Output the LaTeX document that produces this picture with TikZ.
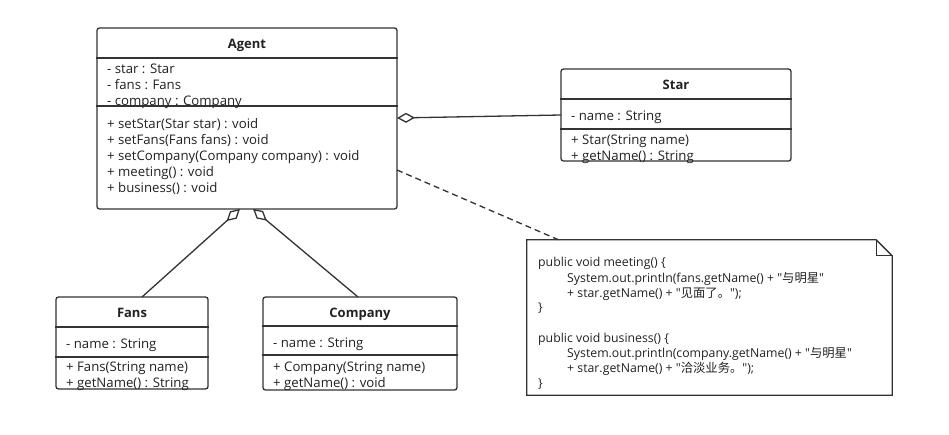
\documentclass[tikz,border=0pt]{standalone}
\usepackage{fontspec}
\setmainfont{Open Sans}
\newfontfamily\plainfont{Open Sans}
\newfontfamily\cjk{Noto Sans CJK SC}
\usetikzlibrary{arrows.meta}
\definecolor{linec}{HTML}{333333}
\definecolor{txtc}{HTML}{222222}
\begin{document}
\begin{tikzpicture}[x=1pt,y=-1pt,
  classbox/.style={draw=linec, line width=1.3pt, rounded corners=2.5pt, fill=white, inner sep=0pt},
  sepline/.style={draw=linec, line width=1.3pt},
  txt/.style={anchor=west, inner sep=0pt, text height=11.5pt, text depth=0pt, text=txtc, font=\fontsize{13.2}{15}\selectfont},
  ntxt/.style={anchor=west, inner sep=0pt, text height=10.5pt, text depth=0pt, text=txtc, font=\plainfont\fontsize{12.3}{14}\selectfont},
  ttl/.style={inner sep=0pt, text height=10pt, text depth=0pt, text=txtc, font=\bfseries\fontsize{13}{15}\selectfont},
  aggr/.style={draw=linec, line width=1.3pt, {Diamond[open,length=18pt,width=10pt,line width=1.3pt]}-},
  dep/.style={draw=linec, line width=1.3pt, dash pattern=on 6pt off 4pt}
]
\useasboundingbox[fill=white] (0,0) rectangle (949,435);

% Agent
\node[classbox, minimum width=300pt, minimum height=181pt] (agent) at (247,118.5) {};
\node[ttl] (agentT) at (247,44) {Agent};
\draw[sepline] (agent.west |- 0,58) -- (agent.east |- 0,58);
\draw[sepline] (agent.west |- 0,106) -- (agent.east |- 0,106);
\node[txt] (a1) at (107,68) {- star : Star};
\node[txt] (a2) at (107,84) {- fans : Fans};
\node[txt] (a3) at (107,100) {- company : Company};
\node[txt] (a4) at (107,123) {+ setStar(Star star) : void};
\node[txt] (a5) at (107,139) {+ setFans(Fans fans) : void};
\node[txt] (a6) at (107,155) {+ setCompany(Company company) : void};
\node[txt] (a7) at (107,171) {+ meeting() : void};
\node[txt] (a8) at (107,187) {+ business() : void};

% Star
\node[classbox, minimum width=230pt, minimum height=92pt] (star) at (676,115) {};
\node[ttl] (starT) at (676,85) {Star};
\draw[sepline] (star.west |- 0,99) -- (star.east |- 0,99);
\draw[sepline] (star.west |- 0,129) -- (star.east |- 0,129);
\node[txt] (s1) at (571,115) {- name : String};
\node[txt] (s2) at (571,139) {+ Star(String name)};
\node[txt] (s3) at (571,155) {+ getName() : String};

% Fans
\node[classbox, minimum width=152pt, minimum height=92pt] (fans) at (132,343) {};
\node[ttl] (fansT) at (132,312.5) {Fans};
\draw[sepline] (fans.west |- 0,327) -- (fans.east |- 0,327);
\draw[sepline] (fans.west |- 0,357) -- (fans.east |- 0,357);
\node[txt] (f1) at (66,343) {- name : String};
\node[txt] (f2) at (66,366) {+ Fans(String name)};
\node[txt] (f3) at (66,382) {+ getName() : String};

% Company
\node[classbox, minimum width=194pt, minimum height=93pt] (company) at (360,343.5) {};
\node[ttl] (companyT) at (360,312) {Company};
\draw[sepline] (company.west |- 0,326) -- (company.east |- 0,326);
\draw[sepline] (company.west |- 0,355) -- (company.east |- 0,355);
\node[txt] (c1) at (273,342) {- name : String};
\node[txt] (c2) at (273,366) {+ Company(String name)};
\node[txt] (c3) at (273,382) {+ getName() : void};

% Note
\node[inner sep=0pt, minimum width=365pt, minimum height=155pt] (note) at (709.5,317.5) {};
\draw[draw=linec, line width=1.3pt, fill=white]
  (note.north west) -- ([xshift=-16pt]note.north east) -- ([yshift=-16pt]note.north east)
  -- (note.south east) -- (note.south west) -- cycle;
\draw[draw=linec, line width=1.3pt]
  ([xshift=-16pt]note.north east) -- ([xshift=-16pt,yshift=-16pt]note.north east) -- ([yshift=-16pt]note.north east);
\node[ntxt] (n1) at (538,261) {public void meeting() \{};
\node[ntxt] (n2) at (567,277) {System.out.println(fans.getName() + "{\cjk 与明星}"};
\node[ntxt] (n3) at (567,292) {+ star.getName() + "{\cjk 见面了。}");};
\node[ntxt] (n4) at (538,306) {\}};
\node[ntxt] (n5) at (538,337) {public void business() \{};
\node[ntxt] (n6) at (567,352) {System.out.println(company.getName() + "{\cjk 与明星}"};
\node[ntxt] (n7) at (567,367) {+ star.getName() + "{\cjk 洽淡业务。}");};
\node[ntxt] (n8) at (538,382) {\}};

% Connectors
\coordinate (agStar) at (397,118);
\coordinate (stAg) at (561,115);
\coordinate (agFans) at (240,209);
\coordinate (faAg) at (142,297);
\coordinate (agComp) at (253,209);
\coordinate (coAg) at (358,297);
\coordinate (agNote) at (397,170);
\coordinate (noAg) at (559,240);
\draw[aggr] (agStar) -- (stAg);
\draw[aggr] (agFans) -- (faAg);
\draw[aggr] (agComp) -- (coAg);
\draw[dep] (agNote) -- (noAg);
\end{tikzpicture}
\end{document}
